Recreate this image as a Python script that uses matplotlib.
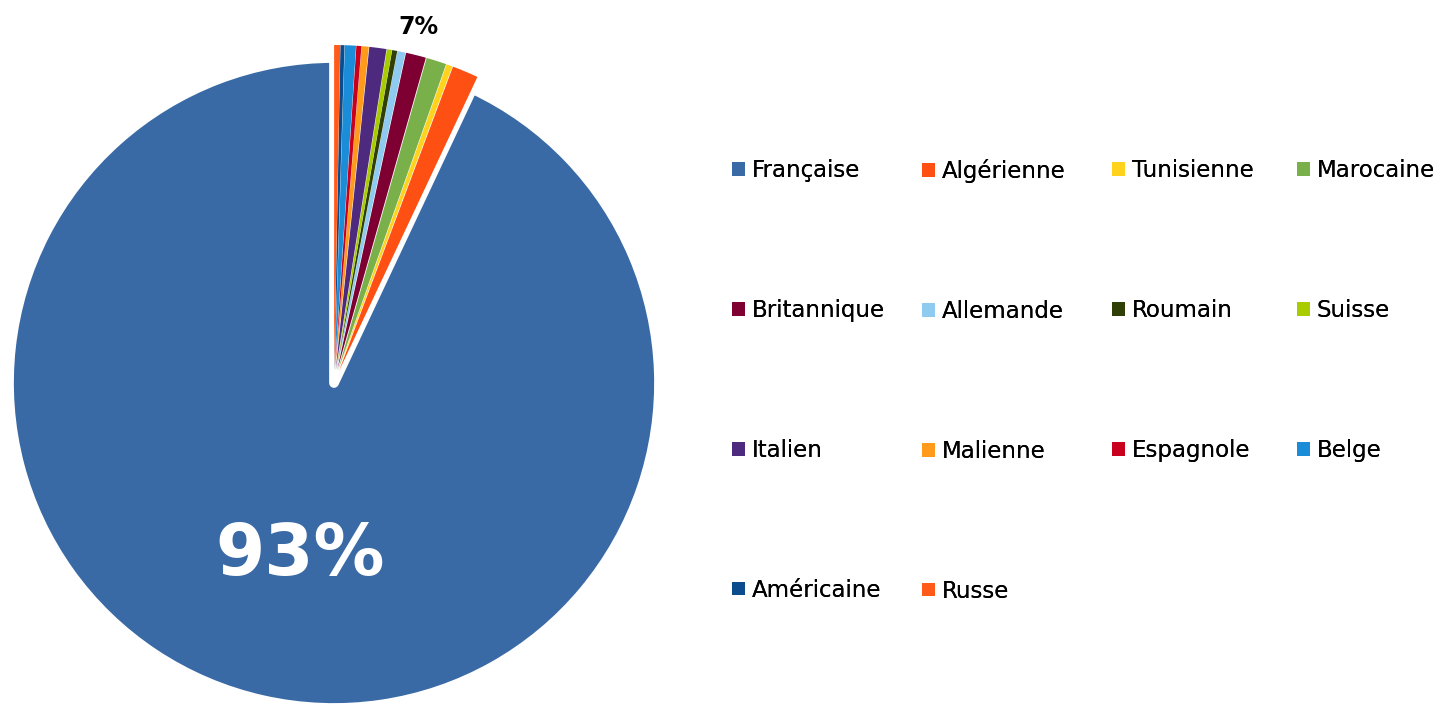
import numpy as np
import matplotlib.pyplot as plt
from matplotlib.patches import Patch

# Data
labels = ['Française', 'Algérienne', 'Tunisienne', 'Marocaine',
          'Britannique', 'Allemande', 'Roumain', 'Suisse',
          'Italien', 'Malienne', 'Espagnole', 'Belge',
          'Américaine', 'Russe']
values = [93.0, 1.3, 0.3, 1.0,
          1.0, 0.4, 0.25, 0.25,
          0.85, 0.35, 0.25, 0.55,
          0.2, 0.3]
colors = ['#3A6AA6', '#FF5014', '#FFD21E', '#7AB04A',
          '#7E0032', '#8FCBF0', '#2F3F06', '#A8CC00',
          '#4E2A7E', '#FF9A1A', '#C8001E', '#1A8CD8',
          '#0B4C8C', '#FF5A1A']

W, H = 1448, 708
fig = plt.figure(figsize=(W / 100, H / 100), dpi=100)
plt.rcParams['font.family'] = ['DejaVu Sans']

# pie axes (centre ~ (333, 383) px from top, radius ~325 px)
r = 325
cx, cy = 334, H - 383
ax = fig.add_axes([(cx - r) / W, (cy - r) / H, 2 * r / W, 2 * r / H])

explode = [0] + [0.04] * (len(values) - 1)
wedges, _ = ax.pie(values, colors=colors, startangle=90, counterclock=True,
                   explode=explode, radius=1, labels=None)
ax.set_xlim(-1, 1)
ax.set_ylim(-1, 1)
ax.axis('off')
for w in wedges:
    w.set_clip_on(False)
    w.set_linewidth(0)
wedges[0].set_edgecolor('white')
wedges[0].set_linewidth(7)
wedges[0].set_joinstyle('round')

ax.text(-0.105, -0.53, '93%', color='white', fontsize=51, fontweight='bold',
        ha='center', va='center')
ax.text(0.26, 1.095, '7%', color='black', fontsize=17, fontweight='bold',
        ha='center', va='center')

# legend: four columns, laid out row by row as in the original
col_x = [716, 906, 1096, 1281]
for j, x in enumerate(col_x):
    idx = list(range(j, len(labels), 4))
    leg = fig.legend([Patch(facecolor=colors[i], edgecolor='none') for i in idx],
                     [labels[i] for i in idx], loc='upper left',
                     bbox_to_anchor=(x / W, 1 - 143 / H), frameon=False,
                     fontsize=16.5, handlelength=0.55, handleheight=0.55,
                     handletextpad=0.3, labelspacing=5.1, borderpad=0.2)
    fig.add_artist(leg)

fig.savefig('out.png', dpi=100)
